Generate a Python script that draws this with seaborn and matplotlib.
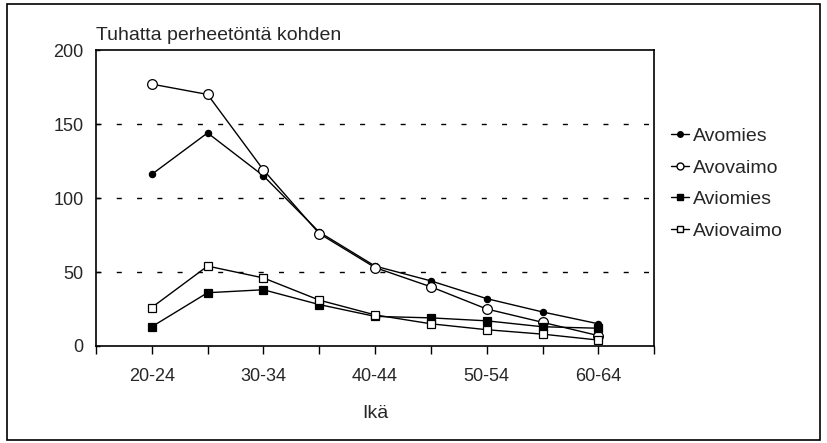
import matplotlib
matplotlib.use("Agg")
import matplotlib.pyplot as plt
import seaborn as sns
import pandas as pd
from matplotlib.lines import Line2D
from matplotlib.patches import Rectangle

age_groups = ["20-24", "25-29", "30-34", "35-39", "40-44", "45-49", "50-54", "55-59", "60-64"]
avomies = [116, 144, 115, 77, 54, 44, 32, 23, 15]
avovaimo = [177, 170, 119, 76, 53, 40, 25, 16, 7]
aviomies = [13, 36, 38, 28, 20, 19, 17, 13, 12]
aviovaimo = [26, 54, 46, 31, 21, 15, 11, 8, 4]
series_names = ["Avomies", "Avovaimo", "Aviomies", "Aviovaimo"]
y_ticks = [0, 50, 100, 150, 200]
y_title = "Tuhatta perheetöntä kohden"
x_title = "Ikä"

sns.set_style("white")
plt.rcParams["font.family"] = ["Liberation Sans Narrow", "Liberation Sans", "DejaVu Sans"]

rows = []
for name, vals in zip(series_names, [avomies, avovaimo, aviomies, aviovaimo]):
    for i, v in enumerate(vals):
        rows.append({"pos": i, "age": age_groups[i], "value": v, "series": name})
df = pd.DataFrame(rows)

styles = {
    "Avomies": dict(marker="o", markersize=4.5, markerfacecolor="black"),
    "Avovaimo": dict(marker="o", markersize=7, markerfacecolor="white"),
    "Aviomies": dict(marker="s", markersize=6, markerfacecolor="black"),
    "Aviovaimo": dict(marker="s", markersize=6, markerfacecolor="white"),
}
legend_styles = {
    "Avomies": dict(marker="o", markersize=4, markerfacecolor="black"),
    "Avovaimo": dict(marker="o", markersize=5, markerfacecolor="white"),
    "Aviomies": dict(marker="s", markersize=5, markerfacecolor="black"),
    "Aviovaimo": dict(marker="s", markersize=5, markerfacecolor="white"),
}

fig = plt.figure(figsize=(8.27, 4.43), dpi=100)
ax = fig.add_axes([0.116, 0.219, 0.675, 0.668])

for y in [50, 100, 150]:
    ax.axhline(y, color="black", linewidth=1.0, linestyle=(0, (3.6, 11)), zorder=0)

for name in series_names:
    sub = df[df["series"] == name]
    sns.lineplot(data=sub, x="pos", y="value", ax=ax, color="black", linewidth=1.0,
                 markeredgecolor="black", markeredgewidth=0.9, legend=False, **styles[name])

ax.set_xlim(-1, 9)
ax.set_ylim(0, 200)
ax.set_xticks(range(len(age_groups)))
ax.set_xticklabels([a if i % 2 == 0 else "" for i, a in enumerate(age_groups)], fontsize=13)
ax.set_xticks([-1, 9], minor=True)
ax.tick_params(axis="x", which="both", direction="out", length=6, width=1, color="black",
               bottom=True, pad=10)
ax.set_yticks(y_ticks)
ax.set_yticklabels([str(t) for t in y_ticks], fontsize=13)
ax.tick_params(axis="y", direction="in", length=3, width=1, color="black", left=True, pad=9)
for s in ax.spines.values():
    s.set_color("black")
    s.set_linewidth(1.2)
ax.set_xlabel(x_title, fontsize=14, labelpad=14)
ax.set_ylabel("")
ax.text(0.0, 1.02, y_title, transform=ax.transAxes, fontsize=14, ha="left", va="bottom")

handles = [Line2D([], [], color="black", linewidth=1.0, markeredgecolor="black", **legend_styles[n])
           for n in series_names]
leg = fig.legend(handles, series_names, loc="upper left", bbox_to_anchor=(0.79, 0.752),
                 frameon=False, fontsize=14, handlelength=0.95, handletextpad=0.2,
                 labelspacing=0.72)

fig.patches.append(Rectangle((0.009, 0.007), 0.983, 0.983, transform=fig.transFigure,
                             fill=False, edgecolor="black", linewidth=1.2))

fig.savefig("out.png", dpi=100)
